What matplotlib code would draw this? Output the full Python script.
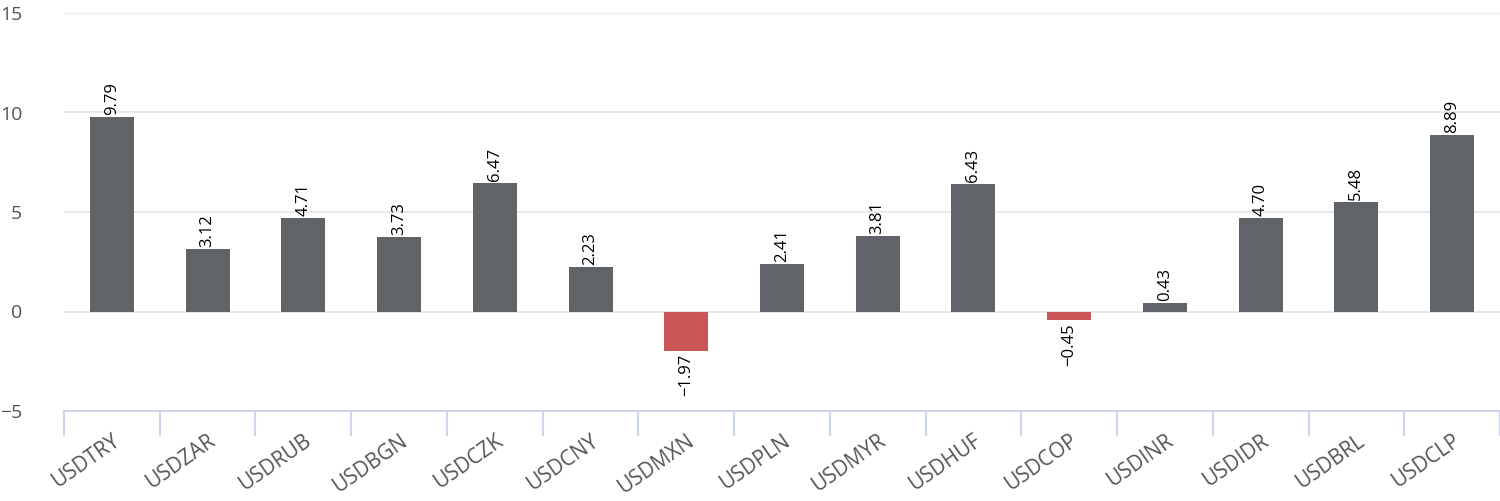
import matplotlib.pyplot as plt
import numpy as np

pairs = ["USDTRY", "USDZAR", "USDRUB", "USDBGN", "USDCZK", "USDCNY", "USDMXN", "USDPLN",
         "USDMYR", "USDHUF", "USDCOP", "USDINR", "USDIDR", "USDBRL", "USDCLP"]
values = [9.79, 3.12, 4.71, 3.73, 6.47, 2.23, -1.97, 2.41, 3.81, 6.43, -0.45, 0.43, 4.70, 5.48, 8.89]
y_ticks = [-5, 0, 5, 10, 15]


def main():
    plt.rcParams['font.family'] = ['Open Sans', 'DejaVu Sans']
    fig = plt.figure(figsize=(15, 5.01), dpi=100)
    ax = fig.add_axes([64 / 1500, 90 / 501, 1436 / 1500, 398 / 501])

    x = np.arange(len(pairs))
    colors = ["#606368" if v >= 0 else "#c95654" for v in values]
    ax.bar(x, values, width=0.46, color=colors, zorder=3)

    for xi, v in zip(x, values):
        if v >= 0:
            ax.text(xi, v + 0.1, f"{v:.2f}", rotation=90, ha="center", va="bottom",
                    fontsize=12, color="black")
        else:
            ax.text(xi, v - 0.15, f"\u2212{abs(v):.2f}", rotation=90, ha="center", va="top",
                    fontsize=12, color="black")

    ax.set_xlim(-0.5, len(pairs) - 0.5)
    ax.set_ylim(-5, 15)
    ax.set_yticks(y_ticks)
    ax.set_yticklabels([f"\u2212{abs(t)}" if t < 0 else str(t) for t in y_ticks])
    ax.grid(axis="y", color="#e6e6e6", linewidth=1.2, zorder=0)

    ax.set_xticks(np.arange(-0.5, len(pairs), 1.0))
    ax.set_xticklabels([])
    ax.set_xticks(x, minor=True)
    ax.set_xticklabels(pairs, minor=True, rotation=35, ha="right", rotation_mode="anchor",
                       fontsize=15, color="#555555")
    ax.tick_params(axis="x", which="major", length=18, width=1.5, color="#ccd6eb")
    ax.tick_params(axis="x", which="minor", length=0, pad=14)
    ax.tick_params(axis="y", length=0, labelsize=14, labelcolor="#555555", pad=30)

    for s in ["top", "right", "left"]:
        ax.spines[s].set_visible(False)
    ax.spines["bottom"].set_color("#ccd6eb")
    ax.spines["bottom"].set_linewidth(1.5)
    ax.spines["bottom"].set_zorder(4)

    fig.savefig("out.png", dpi=100)


if __name__ == "__main__":
    main()
